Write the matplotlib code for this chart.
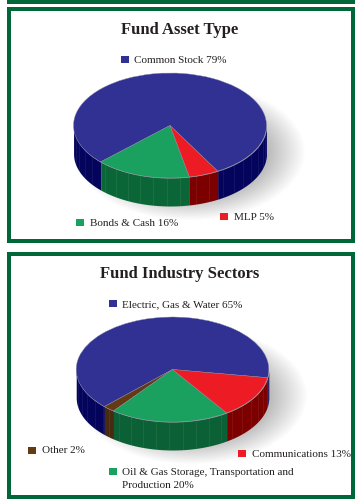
import numpy as np
import matplotlib
matplotlib.use('Agg')
import matplotlib.pyplot as plt
from matplotlib.patches import Rectangle, Ellipse

plt.rcParams['font.family'] = ['Liberation Serif', 'DejaVu Serif']

W, H = 363, 499
GREEN_FRAME = '#006838'
TEXT = '#231f20'

# first chart
asset_title = 'Fund Asset Type'
asset_values = [79, 16, 5]
asset_colors = ['#303192', '#1ba15f', '#ed1c24']
asset_walls = ['#04045c', '#0b6637', '#7c0000']
asset_labels = ['Common Stock 79%', 'Bonds & Cash 16%', 'MLP 5%']

# second chart
sector_title = 'Fund Industry Sectors'
sector_values = [65, 2, 20, 13]
sector_colors = ['#303192', '#643a15', '#1ba15f', '#ed1c24']
sector_walls = ['#04045c', '#472a10', '#0b6035', '#7c0000']
sector_labels = ['Electric, Gas & Water 65%', 'Other 2%',
                 'Oil & Gas Storage, Transportation and\nProduction 20%',
                 'Communications 13%']

fig = plt.figure(figsize=(W / 100, H / 100), dpi=100, facecolor='white')

# whole figure axes in pixels, for the frames and the text
bg = fig.add_axes([0, 0, 1, 1])
bg.set_xlim(0, W)
bg.set_ylim(H, 0)
bg.axis('off')


def frame(x0, y0, x1, y1):
    bg.add_patch(Rectangle((x0 + 2, y0 + 2), x1 - x0 - 4, y1 - y0 - 4, fill=False,
                           ec=GREEN_FRAME, lw=4 * 0.72))


def legend_item(sq_x, sq_y, label, text_y):
    color, text = label
    bg.add_patch(Rectangle((sq_x, sq_y), 8, 7, fc=color, ec='none'))
    bg.text(sq_x + 13.5, text_y, text, fontsize=8.05, color=TEXT, va='baseline',
            linespacing=1.45)


def pie3d(cx, cy, rx, ry, depth, values, colors, walls, start):
    # axes spans 2 radii each side, so data unit 1 = one ellipse radius
    span = 2.0
    ax = fig.add_axes([(cx - span * rx) / W, 1 - (cy + span * ry) / H,
                       2 * span * rx / W, 2 * span * ry / H], zorder=1)
    ax.patch.set_alpha(0)
    d = depth / ry

    # soft shadow, falls to the lower right
    for i in range(24):
        s = 1.04 - i * 0.02
        ax.add_patch(Ellipse((0.2, -0.5), 2 * s * 1.15, 2 * s * 1.25, fc='black',
                             ec='none', alpha=0.014, zorder=1))

    # side wall, front half only
    edges = start + np.cumsum([0] + list(values)) * 3.6
    for a0, a1, wall in zip(edges[:-1], edges[1:], walls):
        for shift in (-360, 0, 360):
            lo = max(a0 + shift, 180)
            hi = min(a1 + shift, 360)
            if lo >= hi:
                continue
            t = np.radians(np.linspace(lo, hi, 60))
            ax.fill_between(np.cos(t), np.sin(t), np.sin(t) - d, color=wall,
                            lw=0, zorder=2)
            # facet lines on the wall
            facets = np.radians(np.arange(lo + 4, hi, 8))
            ax.vlines(np.cos(facets), np.sin(facets), np.sin(facets) - d,
                      color='white', alpha=0.09, lw=0.5, zorder=3)

    ax.pie(values, colors=colors, startangle=start, counterclock=True, radius=1,
           wedgeprops={'lw': 0.3, 'ec': '#8f8fa8', 'zorder': 4})
    ax.set_aspect('auto')
    ax.set_xlim(-span, span)
    ax.set_ylim(-span, span)
    ax.axis('off')
    return ax


# frames and text sit above the pie axes so the shadow stays under them
bg.set_zorder(2)
bg.patch.set_alpha(0)
bg.add_patch(Rectangle((7, 0), 348, 4, fc=GREEN_FRAME, ec='none'))
frame(7, 7, 355, 243)
frame(7, 252, 355, 499)

# chart 1
bg.text(179.5, 34, asset_title, fontsize=12, fontweight='bold', color=TEXT,
        ha='center', va='baseline')
pie3d(170, 125.5, 96.5, 52.5, 28, asset_values, asset_colors, asset_walls, -60.4)
legend_item(121, 56, (asset_colors[0], asset_labels[0]), 63)
legend_item(76, 219, (asset_colors[1], asset_labels[1]), 226)
legend_item(220, 213, (asset_colors[2], asset_labels[2]), 219.5)

# chart 2
bg.text(179.5, 278, sector_title, fontsize=12, fontweight='bold', color=TEXT,
        ha='center', va='baseline')
pie3d(172.5, 369.5, 96.3, 52.5, 28, sector_values, sector_colors, sector_walls, -9)
legend_item(109, 300, (sector_colors[0], sector_labels[0]), 307)
legend_item(28, 447, (sector_colors[1], sector_labels[1]), 453)
legend_item(109, 467.5, (sector_colors[2], sector_labels[2]), 487.5)
legend_item(238, 450, (sector_colors[3], sector_labels[3]), 457)

fig.savefig('out.png', dpi=100)
